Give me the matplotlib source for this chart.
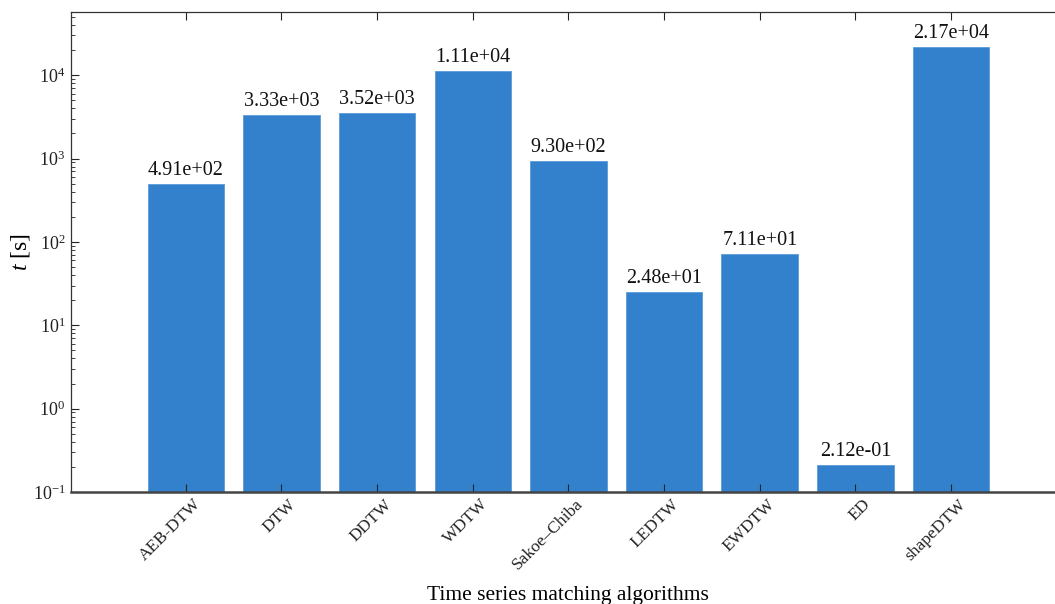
import matplotlib.pyplot as plt
import matplotlib.transforms as mtransforms
import numpy as np

plt.rcParams['font.family'] = ['Liberation Serif', 'DejaVu Serif']
plt.rcParams['mathtext.fontset'] = 'custom'
plt.rcParams['mathtext.rm'] = 'Liberation Serif'
plt.rcParams['mathtext.it'] = 'Liberation Serif:italic'
plt.rcParams['axes.unicode_minus'] = False

# run time of each matching algorithm in seconds
algorithms = ['AEB-DTW', 'DTW', 'DDTW', 'WDTW', 'Sakoe\u2013Chiba',
              'LEDTW', 'EWDTW', 'ED', 'shapeDTW']
times = [4.91e2, 3.33e3, 3.52e3, 1.11e4, 9.30e2, 2.48e1, 7.11e1, 2.12e-1, 2.17e4]
decades = [-1, 0, 1, 2, 3, 4]

fig = plt.figure(figsize=(10.55, 6.04), dpi=100)
ax = fig.add_axes([0.0673, 0.1854, 0.943, 0.7946])

x = np.arange(len(algorithms))
ax.bar(x, times, width=0.8, color='#3381CD', edgecolor='#5b9ad8', linewidth=0.6)
ax.set_yscale('log')
ax.set_ylim(1e-1, 10 ** 4.757)
ax.set_xlim(-1.2, len(algorithms) + 0.2)

# value labels on top of every bar
for xi, t in zip(x, times):
    ax.annotate('%.2e' % t, (xi, t), xytext=(0, 3), textcoords='offset points',
                ha='center', va='bottom', fontsize=14.5, color='#111111')

# slanted algorithm names, drawn by hand so they sit just right of the ticks
ax.set_xticks(x)
ax.set_xticklabels([])
name_tr = ax.get_xaxis_transform() + mtransforms.ScaledTranslation(
    5 / 72, -3 / 72, fig.dpi_scale_trans)
for xi, name in zip(x, algorithms):
    ax.text(xi, 0, name, transform=name_tr, rotation=45, ha='right', va='top',
            rotation_mode='anchor', fontsize=12.5, color='#222222')

ax.set_yticks([10.0 ** k for k in decades])
ax.set_yticklabels([r'$\mathregular{10^{%d}}$' % k for k in decades])
ax.tick_params(axis='both', which='both', direction='in', top=True, right=False,
               colors='#222222')
ax.tick_params(axis='y', which='major', labelsize=13, length=6, pad=4)
ax.tick_params(axis='x', which='major', length=6)
ax.tick_params(axis='y', which='minor', length=3)
ax.tick_params(axis='x', which='minor', bottom=False, top=False)

ax.spines['right'].set_visible(False)
for s in ['left', 'top']:
    ax.spines[s].set_color('#333333')
    ax.spines[s].set_linewidth(0.9)
ax.spines['bottom'].set_color('#444444')
ax.spines['bottom'].set_linewidth(1.8)

ax.set_xlabel('Time series matching algorithms', fontsize=15.5)
ax.xaxis.set_label_coords(0.5, -0.196)
ax.set_ylabel(r'$t$ [s]', fontsize=17)
ax.yaxis.set_label_coords(-0.039, 0.5)

fig.savefig('out.png', dpi=100)
